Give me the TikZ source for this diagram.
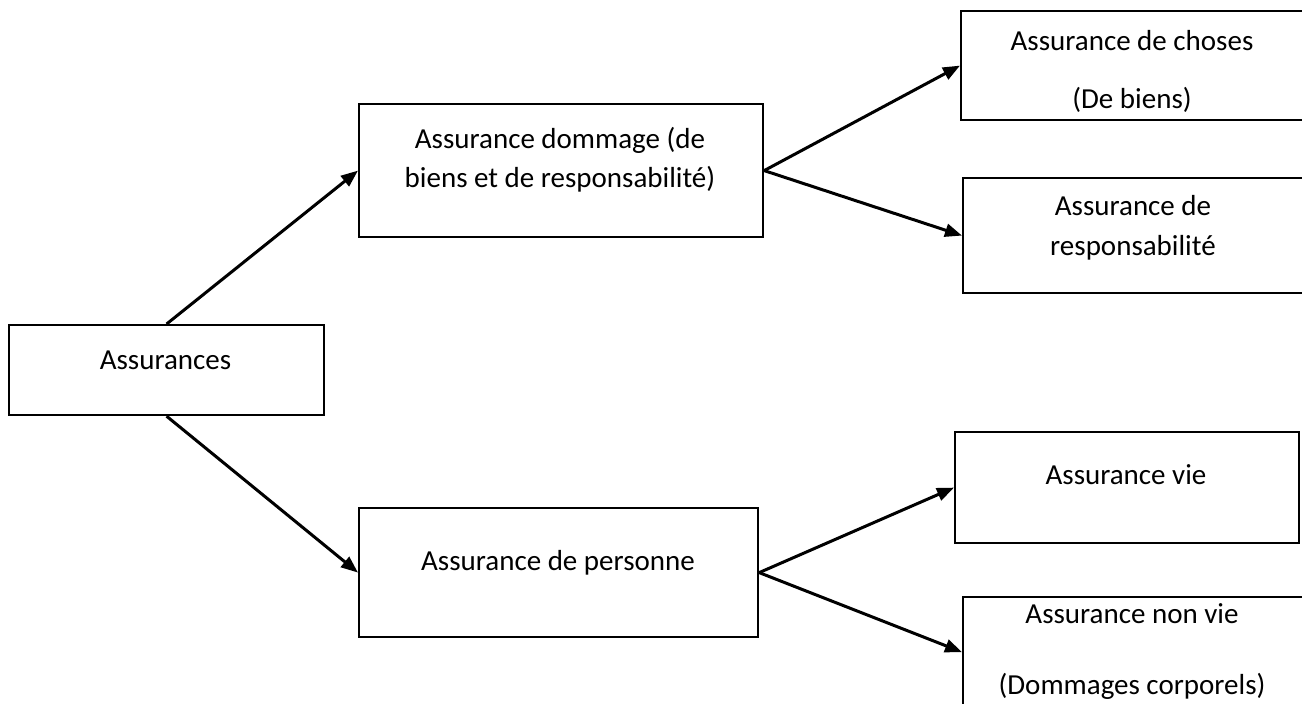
\documentclass[tikz,border=0pt]{standalone}
\usepackage{fontspec}
\setmainfont{Carlito}
\usetikzlibrary{arrows.meta}
\begin{document}
\begin{tikzpicture}[x=1pt,y=-1pt,
  box/.style={draw=black, line width=2.2pt, rectangle, inner sep=0pt, anchor=north west},
  txt/.style={font=\fontsize{29}{39}\selectfont, align=center, inner sep=0pt},
  conn/.style={line width=3pt, -{Triangle[length=17pt,width=13pt]}}]
\useasboundingbox (0,0) rectangle (1302,704);
\clip (0,0) rectangle (1302,704);
% boxes
\node[box, minimum width=315pt, minimum height=90pt]  (A) at (8,324) {};
\node[box, minimum width=404pt, minimum height=133pt] (D) at (358,103) {};
\node[box, minimum width=344pt, minimum height=109pt] (C) at (960,10) {};
\node[box, minimum width=342pt, minimum height=115pt] (R) at (962,177) {};
\node[box, minimum width=399pt, minimum height=129pt] (P) at (358,507) {};
\node[box, minimum width=344pt, minimum height=111pt] (V) at (954,431) {};
\node[box, minimum width=342pt, minimum height=110pt] (N) at (962,596) {};
% texts
\node[txt] (At) at (165.5,360) {Assurances};
\node[txt] (Dt) at (560,160) {Assurance dommage (de\\biens et de responsabilité)};
\node[txt, font=\fontsize{29}{58}\selectfont] (Ct) at (1132,71) {Assurance de choses\\(De biens)};
\node[txt, font=\fontsize{29}{40}\selectfont] (Rt) at (1133,228) {Assurance de\\responsabilité};
\node[txt] (Pt) at (558,563) {Assurance de personne};
\node[txt] (Vt) at (1126,475) {Assurance vie};
\node[txt, font=\fontsize{29}{71}\selectfont] (Nt) at (1132,652) {Assurance non vie\\(Dommages corporels)};
% connectors
\draw[conn] (A.north) -- (D.west);
\draw[conn] (A.south) -- (P.west);
\draw[conn] (D.east) -- (C.west);
\draw[conn] (D.east) -- (R.west);
\draw[conn] (P.east) -- (V.west);
\draw[conn] (P.east) -- (N.west);
\end{tikzpicture}
\end{document}
